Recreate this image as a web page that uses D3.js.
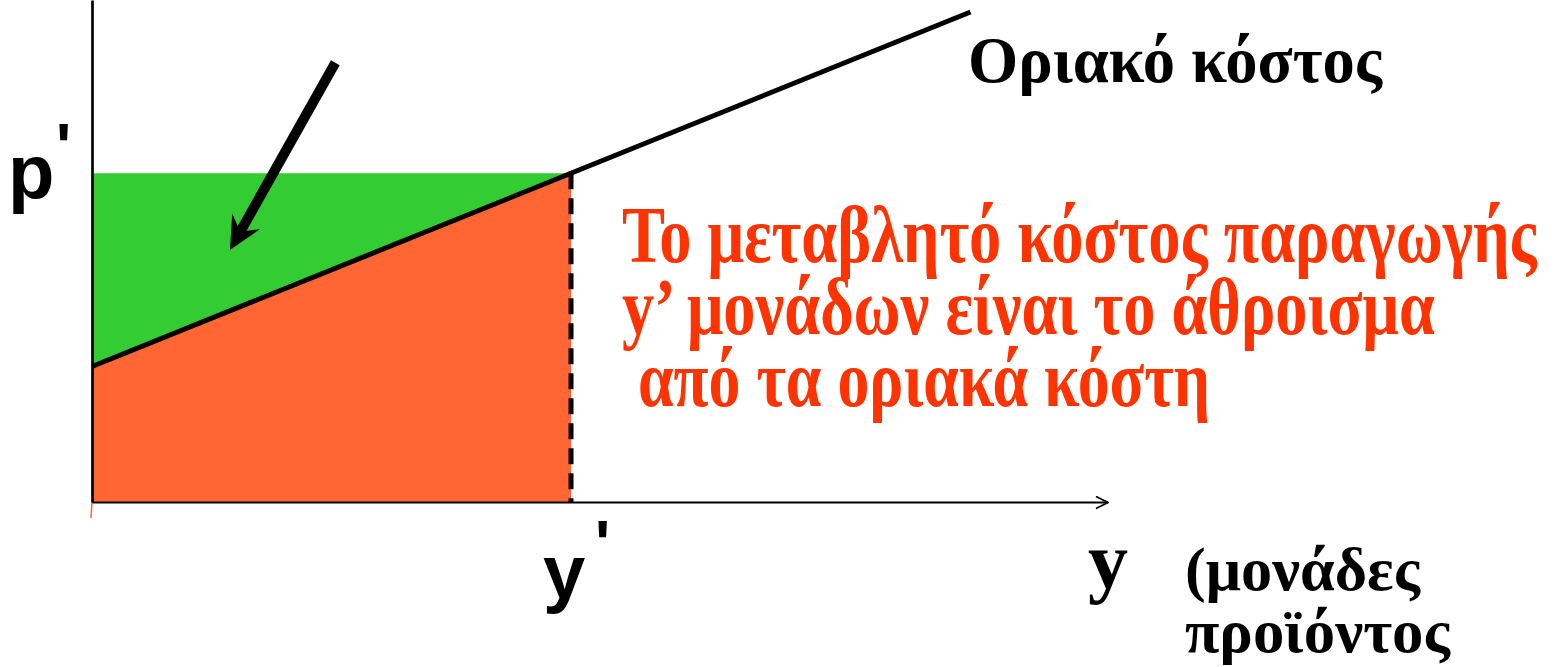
<!DOCTYPE html>
<html>
<head>
<meta charset="utf-8">
<script src="https://cdn.jsdelivr.net/npm/d3@7"></script>
<style>
  body { margin: 0; background: #fff; }
  .serif { font-family: "Liberation Serif", "Times New Roman", serif; font-weight: bold; }
  .sans { font-family: "Liberation Sans", Arial, sans-serif; font-weight: bold; }
</style>
</head>
<body>
<div class="canvas"></div>
<script>
// quantities (arbitrary units)
const qMax = 10.6;          // end of the quantity axis
const pMax = 10;            // top of the price axis
const qPrime = 5;           // y'
const pPrime = 6.55;        // p'
const mcQ = [0, 9.17];      // marginal cost line, quantities
const mcP = [2.7, 9.76];    // marginal cost line, prices
const pointerFrom = [2.54, 8.75];
const pointerTo = [1.44, 5.02];

const labelMC = "Οριακό κόστος";
const noteLines = [
  "Το μεταβλητό κόστος παραγωγής",
  "y’ μονάδων είναι το άθροισμα",
  " από τα οριακά κόστη",
];
const axisLabelLines = ["(μονάδες", "προϊόντος"];

const width = 1556;
const height = 667;

const svg = d3
  .select(".canvas")
  .append("svg")
  .attr("width", width)
  .attr("height", height);

// scales
const x = d3.scaleLinear().domain([0, 10]).range([92, 1050]);
const y = d3.scaleLinear().domain([0, pMax]).range([502, 0]);

const mc = mcQ.map((q, i) => ({ q, p: mcP[i] }));
const mcAt = (q) => mcP[0] + ((mcP[1] - mcP[0]) / (mcQ[1] - mcQ[0])) * q;
const region = [0, qPrime].map((q) => ({ q, p: mcAt(q) }));

// squeeze a text horizontally so it spans the given width
function fitWidth(sel, x0, y0, w) {
  sel.attr("x", 0).attr("y", 0);
  const natural = sel.node().getComputedTextLength();
  sel.attr("transform", `translate(${x0},${y0}) scale(${w / natural},1)`);
}

// green area: between marginal cost and p'
svg
  .append("path")
  .datum(region)
  .attr("fill", "#33cc33")
  .attr(
    "d",
    d3.area().x((d) => x(d.q)).y0((d) => y(d.p)).y1(y(pPrime))
  );

// orange area: under marginal cost
svg
  .append("path")
  .datum(region)
  .attr("fill", "#ff6633")
  .attr(
    "d",
    d3.area().x((d) => x(d.q)).y0(y(0)).y1((d) => y(d.p))
  );

// small orange mark below origin
svg
  .append("line")
  .attr("x1", x(0))
  .attr("x2", x(0) - 1)
  .attr("y1", y(0))
  .attr("y2", y(0) + 16)
  .attr("stroke", "#ff6633")
  .attr("stroke-width", 1.5);

// dashed line at y'
svg
  .append("line")
  .attr("x1", x(qPrime))
  .attr("x2", x(qPrime))
  .attr("y1", y(pPrime))
  .attr("y2", y(0))
  .attr("stroke", "#000")
  .attr("stroke-width", 5)
  .attr("stroke-dasharray", "16 9");

// arrow marker for x axis
const defs = svg.append("defs");
defs
  .append("marker")
  .attr("id", "axisArrow")
  .attr("viewBox", "0 0 14 14")
  .attr("refX", 13)
  .attr("refY", 7)
  .attr("markerWidth", 14)
  .attr("markerHeight", 14)
  .attr("markerUnits", "userSpaceOnUse")
  .attr("orient", "auto")
  .append("path")
  .attr("d", "M1,1 L13,7 L1,13")
  .attr("fill", "none")
  .attr("stroke", "#000")
  .attr("stroke-width", 1.8);

// axes
const xAxisGroup = svg
  .append("g")
  .attr("transform", `translate(0,${y(0)})`)
  .call(
    d3
      .axisBottom(d3.scaleLinear().domain([0, qMax]).range([x(0), x(qMax)]))
      .tickValues([])
      .tickSizeOuter(0)
  );
xAxisGroup
  .select(".domain")
  .attr("stroke-width", 2.2)
  .attr("marker-end", "url(#axisArrow)");

const yAxisGroup = svg
  .append("g")
  .attr("transform", `translate(${x(0)},0)`)
  .call(d3.axisLeft(y).tickValues([]).tickSizeOuter(0));
yAxisGroup.select(".domain").attr("stroke-width", 2.7);

// marginal cost line
svg
  .append("path")
  .datum(mc)
  .attr("fill", "none")
  .attr("stroke", "#000")
  .attr("stroke-width", 5)
  .attr("d", d3.line().x((d) => x(d.q)).y((d) => y(d.p)));

// pointer arrow
const px0 = x(pointerFrom[0]), py0 = y(pointerFrom[1]);
const px1 = x(pointerTo[0]), py1 = y(pointerTo[1]);
const ang = Math.atan2(py1 - py0, px1 - px0);
const headLen = 33, headBack = 21, headHalf = 16;
const ux = Math.cos(ang), uy = Math.sin(ang);
const nx = -uy, ny = ux;
const notch = [px1 - ux * headBack, py1 - uy * headBack];
svg
  .append("line")
  .attr("x1", px0)
  .attr("y1", py0)
  .attr("x2", notch[0])
  .attr("y2", notch[1])
  .attr("stroke", "#000")
  .attr("stroke-width", 10);
svg
  .append("path")
  .attr("fill", "#000")
  .attr(
    "d",
    d3.line()([
      [px1, py1],
      [px1 - ux * headLen + nx * headHalf, py1 - uy * headLen + ny * headHalf],
      notch,
      [px1 - ux * headLen - nx * headHalf, py1 - uy * headLen - ny * headHalf],
    ]) + "Z"
  );

// labels
svg
  .append("text")
  .attr("class", "serif")
  .attr("font-size", 66)
  .text(labelMC)
  .call(fitWidth, 968, 82, 414);

const noteW = [915, 813, 588];
svg
  .append("g")
  .selectAll("text")
  .data(noteLines)
  .join("text")
  .attr("class", "serif")
  .attr("xml:space", "preserve")
  .style("white-space", "pre")
  .attr("font-size", 80)
  .attr("fill", "#ff3300")
  .text((d) => d)
  .each(function (d, i) {
    fitWidth(d3.select(this), 622, 262 + i * 72, noteW[i]);
  });

// p' label
svg
  .append("text")
  .attr("class", "sans")
  .attr("x", 8)
  .attr("y", y(pPrime) + 25)
  .attr("font-size", 76)
  .text("p");
svg
  .append("text")
  .attr("class", "sans")
  .attr("x", 56)
  .attr("y", y(pPrime) - 4)
  .attr("font-size", 64)
  .text("'");

// y' label
svg
  .append("text")
  .attr("class", "sans")
  .attr("x", x(qPrime) - 28)
  .attr("y", 598)
  .attr("font-size", 76)
  .text("y");
svg
  .append("text")
  .attr("class", "sans")
  .attr("x", x(qPrime) + 24)
  .attr("y", 566)
  .attr("font-size", 64)
  .text("'");

// quantity axis label
svg
  .append("text")
  .attr("class", "serif")
  .attr("x", 1088)
  .attr("y", 588)
  .attr("font-size", 80)
  .text("y");
const axisLabelW = [235, 265];
svg
  .append("g")
  .selectAll("text")
  .data(axisLabelLines)
  .join("text")
  .attr("class", "serif")
  .attr("font-size", 62)
  .text((d) => d)
  .each(function (d, i) {
    fitWidth(d3.select(this), 1185, 590 + i * 62, axisLabelW[i]);
  });
</script>
</body>
</html>
